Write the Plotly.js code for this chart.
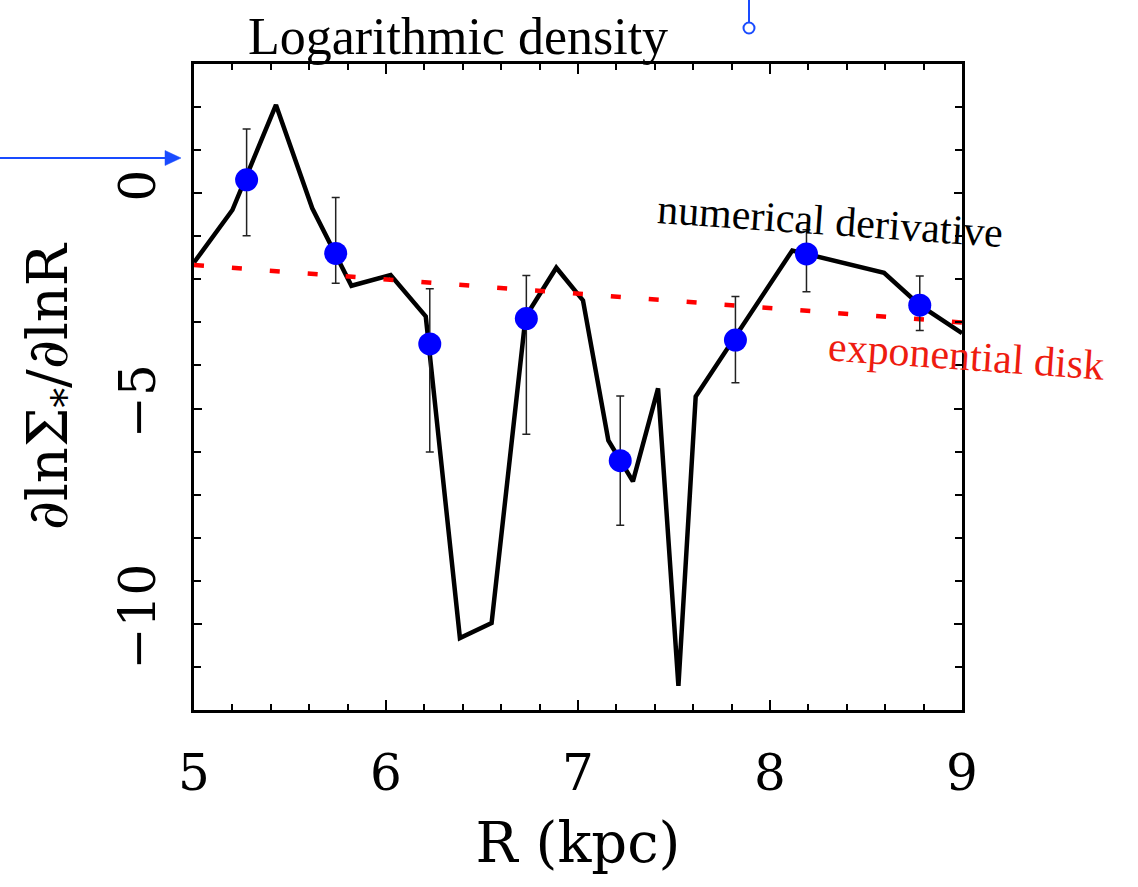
<!DOCTYPE html>
<html>
<head>
<meta charset="utf-8">
<script src="https://cdn.plot.ly/plotly-3.0.1.min.js"></script>
<style>html,body{margin:0;padding:0;background:#fff;}#chart{width:1138px;height:887px;}</style>
</head>
<body>
<div id="chart"></div>
<script>
// numerical derivative (black line)
const lineR = [5.0, 5.2, 5.427, 5.616, 5.82, 6.024, 6.207, 6.385, 6.55, 6.727, 6.887, 7.026, 7.158, 7.286, 7.417, 7.523, 7.613, 8.116, 8.594, 8.78, 9.0];
const lineD = [-1.61, -0.39, 2.05, -0.35, -2.15, -1.90, -2.86, -10.33, -9.98, -2.87, -1.73, -2.49, -5.74, -6.69, -4.53, -11.44, -4.72, -1.33, -1.85, -2.60, -3.25];
// binned points with error bars (blue)
const ptR = [5.274, 5.738, 6.228, 6.731, 7.22, 7.82, 8.19, 8.78];
const ptD = [0.31, -1.40, -3.50, -2.91, -6.21, -3.41, -1.41, -2.60];
const errUp = [1.18, 1.30, 1.28, 1.00, 1.50, 1.01, 0.56, 0.68];
const errDown = [1.30, 0.69, 2.51, 2.69, 1.50, 0.99, 0.88, 0.59];
// exponential disk (red dotted)
const diskR = [5, 9];
const diskD = [-1.667, -3.0];
// axis ticks
const xTicks = [5, 6, 7, 8, 9];
const yTicks = [0, -5, -10];

const tt = "'DejaVu Serif', serif";
const serif = "'Liberation Serif', 'Times New Roman', serif";
const blue = "rgb(25,75,255)";

const traces = [
  {x: lineR, y: lineD, mode: "lines", line: {color: "#000", width: 4.5}, hoverinfo: "skip"},
  {x: diskR, y: diskD, mode: "lines", line: {color: "#ff0000", width: 4.5, dash: "10px,28px"}, hoverinfo: "skip"},
  {x: ptR, y: ptD, mode: "markers",
   marker: {color: "#0000ff", size: 23},
   error_y: {type: "data", symmetric: false, array: errUp, arrayminus: errDown, color: "#222", thickness: 1.5, width: 4}}
];

const paperX = px => (px - 194) / 768;
const paperY = py => (710 - py) / 646;

const layout = {
  width: 1138, height: 887,
  margin: {l: 194, r: 176, t: 64, b: 177, pad: 0},
  paper_bgcolor: "#fff", plot_bgcolor: "#fff",
  showlegend: false,
  title: {text: "Logarithmic density", font: {family: serif, size: 52, color: "#000"},
          xref: "container", yref: "container", x: 458/1138, xanchor: "center", y: 1 - 36/887, yanchor: "middle"},
  xaxis: {
    range: [5, 9], tickvals: xTicks, ticktext: xTicks.map(String),
    showline: true, linecolor: "#000", linewidth: 3, mirror: "ticks",
    ticks: "inside", ticklen: 10, tickwidth: 2, tickcolor: "#000",
    minor: {ticks: "inside", dtick: 0.2, ticklen: 6, tickwidth: 2, tickcolor: "#000", showgrid: false},
    showgrid: false, zeroline: false,
    tickfont: {family: tt, size: 50, color: "#000"},
    ticklabelstandoff: 17,
    title: {text: "R (kpc)", font: {family: tt, size: 56, color: "#000"}, standoff: 22},
    automargin: false
  },
  yaxis: {
    range: [-12, 3], tickvals: yTicks, ticktext: yTicks.map(v => v < 0 ? "\u2212" + Math.abs(v) : String(v)),
    tickangle: -90,
    showline: true, linecolor: "#000", linewidth: 3, mirror: "ticks",
    ticks: "inside", ticklen: 8, tickwidth: 2, tickcolor: "#000",
    minor: {ticks: "inside", dtick: 1, ticklen: 7, tickwidth: 2, tickcolor: "#000", showgrid: false},
    showgrid: false, zeroline: false,
    tickfont: {family: tt, size: 50, color: "#000"},
    ticklabelstandoff: 16,
    title: {text: "\u2202ln\u03A3<sub>*</sub>/\u2202lnR", font: {family: tt, size: 56, color: "#000"}, standoff: 24},
    automargin: false
  },
  annotations: [
    {x: paperX(830), y: paperY(221), xref: "paper", yref: "paper", xanchor: "center", yanchor: "middle",
     text: "numerical derivative", showarrow: false,
     textangle: 4, font: {family: serif, size: 42, color: "#000"}},
    {x: paperX(966), y: paperY(356), xref: "paper", yref: "paper", xanchor: "center", yanchor: "middle",
     text: "exponential disk", showarrow: false,
     textangle: 4, font: {family: serif, size: 42, color: "#ee1c10"}}
  ],
  shapes: [
    // blue arrow at left
    {type: "line", xref: "paper", yref: "paper", x0: paperX(-2), x1: paperX(168), y0: paperY(158), y1: paperY(158),
     line: {color: blue, width: 2}},
    {type: "path", xref: "paper", yref: "paper", xsizemode: "pixel", ysizemode: "pixel",
     xanchor: paperX(181), yanchor: paperY(158), path: "M0,0 L-16,7.5 L-16,-7.5 Z",
     line: {color: blue, width: 0.5}, fillcolor: blue},
    // blue marker at top
    {type: "line", xref: "paper", yref: "paper", x0: paperX(749), x1: paperX(749), y0: paperY(-2), y1: paperY(22),
     line: {color: blue, width: 2}},
    {type: "circle", xref: "paper", yref: "paper", xsizemode: "pixel", ysizemode: "pixel",
     xanchor: paperX(749), yanchor: paperY(28), x0: -5.5, x1: 5.5, y0: -5.5, y1: 5.5,
     line: {color: blue, width: 2}, fillcolor: "rgba(0,0,0,0)"}
  ]
};

Plotly.newPlot("chart", traces, layout, {displayModeBar: false, staticPlot: true});
</script>
</body>
</html>
